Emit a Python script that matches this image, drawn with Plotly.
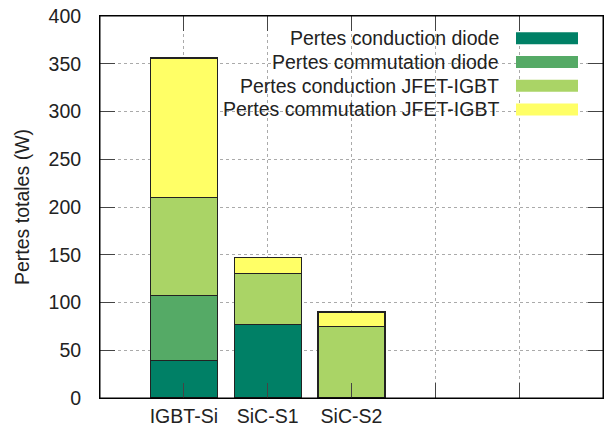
import plotly.graph_objects as go

categories = ["IGBT-Si", "SiC-S1", "SiC-S2"]
extra_ticks = ["", ""]
series_names = [
    "Pertes conduction diode",
    "Pertes commutation diode",
    "Pertes conduction JFET-IGBT",
    "Pertes commutation JFET-IGBT",
]
cond_diode = [39, 77, 0]
comm_diode = [68, 0, 0]
cond_jfet = [103, 53, 75]
comm_jfet = [146, 17, 15]
colors = ["#008066", "#55AA66", "#AAD466", "#FFFF66"]
y_ticks = [0, 50, 100, 150, 200, 250, 300, 350, 400]

FONT = "Liberation Sans, Arial, sans-serif"
FS = 19.5
TXT = "#222222"

x_pos = list(range(len(categories)))
all_ticks = categories + extra_ticks
series = [cond_diode, comm_diode, cond_jfet, comm_jfet]

fig = go.Figure()
for name, vals, col in zip(series_names, series, colors):
    fig.add_trace(go.Bar(
        x=x_pos, y=[v if v else None for v in vals], name=name, width=0.8,
        marker=dict(color=col, line=dict(color="#222222", width=1.2)),
        showlegend=False,
    ))

# legend box (white background, gnuplot-like key with sample on the right)
fig.add_shape(type="rect", xref="paper", yref="paper",
              x0=0.24, x1=0.965, y0=0.725, y1=0.96,
              fillcolor="white", line=dict(width=0), layer="between")
row_h = 23.7 / 382.0
y_first = 1 - (38.3 - 16) / 382.0
for i, (name, col) in enumerate(zip(series_names, colors)):
    yc = y_first - i * row_h
    fig.add_annotation(xref="paper", yref="paper", x=(501 - 100) / 503.0, y=yc,
                       text=name, showarrow=False, xanchor="right", yanchor="middle",
                       font=dict(family=FONT, size=FS, color=TXT))
    fig.add_shape(type="rect", xref="paper", yref="paper",
                  x0=(516 - 100) / 503.0, x1=(578 - 100) / 503.0,
                  y0=yc - 6 / 382.0, y1=yc + 6 / 382.0,
                  fillcolor=col, line=dict(width=0), layer="above")

# plot frame
fig.add_shape(type="rect", xref="paper", yref="paper", x0=0, x1=1, y0=0, y1=1,
              line=dict(color="black", width=1), fillcolor="rgba(0,0,0,0)", layer="above")

axis_common = dict(
    showline=True, linecolor="black", linewidth=1, mirror="ticks",
    ticks="inside", ticklen=15, tickwidth=1.2, tickcolor="#444444",
    showgrid=True, gridcolor="#aaaaaa", griddash="dot", gridwidth=1,
    zeroline=False, automargin=False,
    tickfont=dict(family=FONT, size=FS, color=TXT),
)

fig.update_layout(
    width=612, height=432,
    margin=dict(l=100, r=9, t=16, b=34),
    paper_bgcolor="white", plot_bgcolor="white",
    barmode="stack",
    bargap=0.2,
    xaxis=dict(range=[-1, 5], tickmode="array", tickvals=list(range(len(all_ticks))),
               ticktext=all_ticks, ticklabelstandoff=1, **axis_common),
    yaxis=dict(range=[0, 400], tickmode="array", tickvals=y_ticks,
               ticklabelstandoff=14,
               title=dict(text="Pertes totales (W)", standoff=13,
                          font=dict(family=FONT, size=FS, color=TXT)),
               **axis_common),
)

fig.write_html("out.html", config={"displayModeBar": False},
               post_script="document.body.style.margin='0px';document.body.style.overflow='hidden';")
